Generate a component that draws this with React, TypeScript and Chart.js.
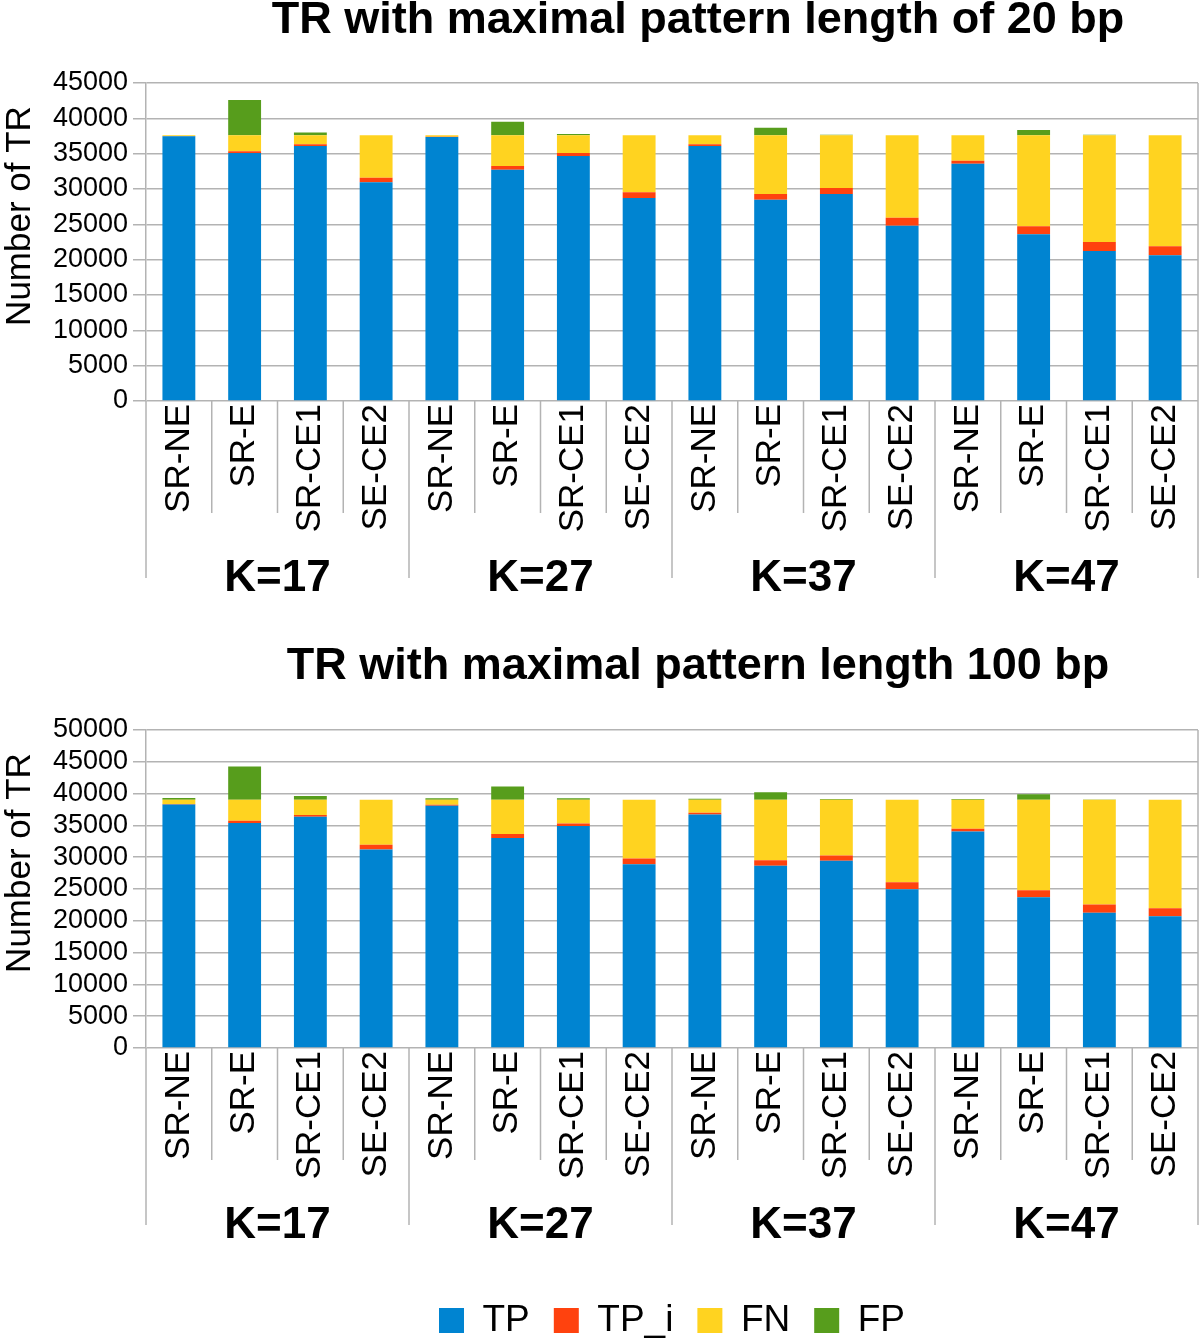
import React, { useEffect, useRef } from 'react';
import { Chart, registerables } from 'chart.js';

Chart.register(...registerables);

// ---------- data ----------
const categories = [
  'SR-NE', 'SR-E', 'SR-CE1', 'SE-CE2',
  'SR-NE', 'SR-E', 'SR-CE1', 'SE-CE2',
  'SR-NE', 'SR-E', 'SR-CE1', 'SE-CE2',
  'SR-NE', 'SR-E', 'SR-CE1', 'SE-CE2',
];
const groups = ['K=17', 'K=27', 'K=37', 'K=47'];
const seriesNames = ['TP', 'TP_i', 'FN', 'FP'];
const seriesColors = ['#0084d1', '#ff420e', '#ffd320', '#579d1c'];

const title20 = 'TR with maximal pattern length of 20 bp';
const title100 = 'TR with maximal pattern length 100 bp';
const yAxisTitle = 'Number of TR';

// chart 1: maximal pattern length 20 bp
const tp20 = [37450, 35100, 36080, 30940, 37360, 32740, 34670, 28730, 36090, 28490, 29290, 24810, 33590, 23590, 21230, 20610];
const tpi20 = [50, 230, 240, 660, 40, 520, 420, 800, 230, 800, 850, 1130, 420, 1130, 1270, 1280];
const fn20 = [100, 2270, 1280, 6000, 200, 4340, 2510, 8070, 1280, 8310, 7460, 11660, 3590, 12880, 15100, 15710];
const fp20 = [0, 5000, 380, 0, 0, 1930, 190, 0, 0, 1080, 90, 0, 0, 750, 90, 0];
const yMax20 = 45000;

// chart 2: maximal pattern length 100 bp
const tp100 = [38300, 35360, 36360, 31220, 38090, 33000, 34890, 28910, 36730, 28650, 29430, 24970, 34050, 23710, 21250, 20720];
const tpi100 = [60, 370, 260, 730, 160, 630, 420, 890, 260, 890, 840, 1100, 420, 1100, 1310, 1260];
const fn100 = [690, 3320, 2430, 7100, 800, 5420, 3740, 9250, 2060, 9510, 8780, 12980, 4580, 14240, 16490, 17070];
const fp100 = [250, 5200, 560, 0, 200, 2050, 200, 0, 150, 1150, 100, 0, 100, 840, 30, 0];
const yMax100 = 50000;

const yStep = 5000;

// ---------- style ----------
const FONT = '"Liberation Sans", Arial, Helvetica, sans-serif';
const GRID = '#b3b3b3';

const decorPlugin = {
  id: 'decor',
  afterDraw(chart: any) {
    const { ctx, chartArea } = chart;
    const xs = chart.scales.x;
    const n = categories.length;
    const w = (xs.right - xs.left) / n;
    ctx.save();
    ctx.strokeStyle = GRID;
    ctx.lineWidth = 1.5;
    // right frame
    ctx.beginPath();
    ctx.moveTo(chartArea.right, chartArea.top);
    ctx.lineTo(chartArea.right, chartArea.bottom);
    ctx.stroke();
    // category separators
    for (let i = 0; i <= n; i++) {
      const x = xs.left + i * w;
      const len = i % 4 === 0 ? 177 : 112;
      ctx.beginPath();
      ctx.moveTo(x, chartArea.bottom);
      ctx.lineTo(x, chartArea.bottom + len);
      ctx.stroke();
    }
    // group labels
    ctx.fillStyle = '#000';
    ctx.font = `bold 44px ${FONT}`;
    ctx.textAlign = 'center';
    ctx.textBaseline = 'alphabetic';
    groups.forEach((g, gi) => {
      const x = xs.left + (gi * 4 + 2) * w;
      ctx.fillText(g, x, chartArea.bottom + 190);
    });
    // y axis title
    ctx.font = `35px ${FONT}`;
    ctx.translate(chartArea.left - 116, (chartArea.top + chartArea.bottom) / 2 - 26);
    ctx.rotate(-Math.PI / 2);
    ctx.fillText(yAxisTitle, 0, 0);
    ctx.restore();
  },
};

type Props = {
  tp: number[];
  tpi: number[];
  fn: number[];
  fp: number[];
  yMax: number;
  withLegend: boolean;
  height: number;
  padTop: number;
  xHeight: number;
};

function StackedChart(props: Props) {
  const ref = useRef<HTMLCanvasElement>(null);
  useEffect(() => {
    const values = [props.tp, props.tpi, props.fn, props.fp];
    const chart = new Chart(ref.current as HTMLCanvasElement, {
      type: 'bar',
      data: {
        labels: categories,
        datasets: seriesNames.map((name, i) => ({
          label: name,
          data: values[i],
          backgroundColor: seriesColors[i],
          borderColor: seriesColors[i],
          borderWidth: 0,
          barPercentage: 0.5,
          categoryPercentage: 1.0,
        })),
      },
      options: {
        responsive: false,
        animation: false,
        devicePixelRatio: 1,
        layout: { padding: { top: props.padTop, left: 0, right: 2, bottom: 0 } },
        plugins: {
          title: { display: false },
          tooltip: { enabled: false },
          legend: {
            display: props.withLegend,
            position: 'bottom',
            fullSize: false,
            labels: {
              boxWidth: 25,
              boxHeight: 25,
              padding: 24,
              color: '#000',
              font: { family: FONT, size: 37 },
            },
          },
        },
        scales: {
          x: {
            stacked: true,
            grid: { display: false, drawTicks: false },
            border: { display: false },
            ticks: {
              autoSkip: false,
              minRotation: 90,
              maxRotation: 90,
              padding: 3,
              color: '#000',
              font: { family: FONT, size: 35 },
            },
            afterFit: (s: any) => {
              s.height = props.xHeight;
              s.paddingLeft = 0;
              s.paddingRight = 0;
            },
          },
          y: {
            stacked: true,
            min: 0,
            max: props.yMax,
            ticks: {
              stepSize: yStep,
              autoSkip: false,
              padding: 5,
              color: '#000',
              font: { family: FONT, size: 27 },
              callback: (v: any) => String(v),
            },
            grid: { color: GRID, lineWidth: 1.5, drawTicks: true, tickLength: 13 },
            border: { color: GRID, width: 1.5 },
            afterFit: (s: any) => {
              s.width = 146;
            },
          },
        },
      },
      plugins: [decorPlugin],
    } as any);
    return () => chart.destroy();
  }, []);
  return (
    <canvas
      ref={ref}
      width={1200}
      height={props.height}
      style={{ display: 'block', width: 1200, height: props.height }}
    />
  );
}

const titleStyle = (top: number): React.CSSProperties => ({
  position: 'absolute',
  left: 98,
  top,
  width: 1200,
  textAlign: 'center',
  fontFamily: FONT,
  fontWeight: 'bold',
  fontSize: 45,
  lineHeight: '45px',
  color: '#000',
  whiteSpace: 'nowrap',
});

export default function App() {
  return (
    <div style={{ position: 'absolute', left: 0, top: 0, width: 1200, height: 1343, background: '#fff', overflow: 'hidden' }}>
      <div style={{ position: 'absolute', left: 0, top: 0 }}>
        <StackedChart tp={tp20} tpi={tpi20} fn={fn20} fp={fp20} yMax={yMax20} withLegend={false} height={620} padTop={83} xHeight={219} />
      </div>
      <div style={{ position: 'absolute', left: 0, top: 640 }}>
        <StackedChart tp={tp100} tpi={tpi100} fn={fn100} fp={fp100} yMax={yMax100} withLegend={true} height={709} padTop={90} xHeight={230} />
      </div>
      <div style={titleStyle(-5)}>{title20}</div>
      <div style={titleStyle(641)}>{title100}</div>
    </div>
  );
}
